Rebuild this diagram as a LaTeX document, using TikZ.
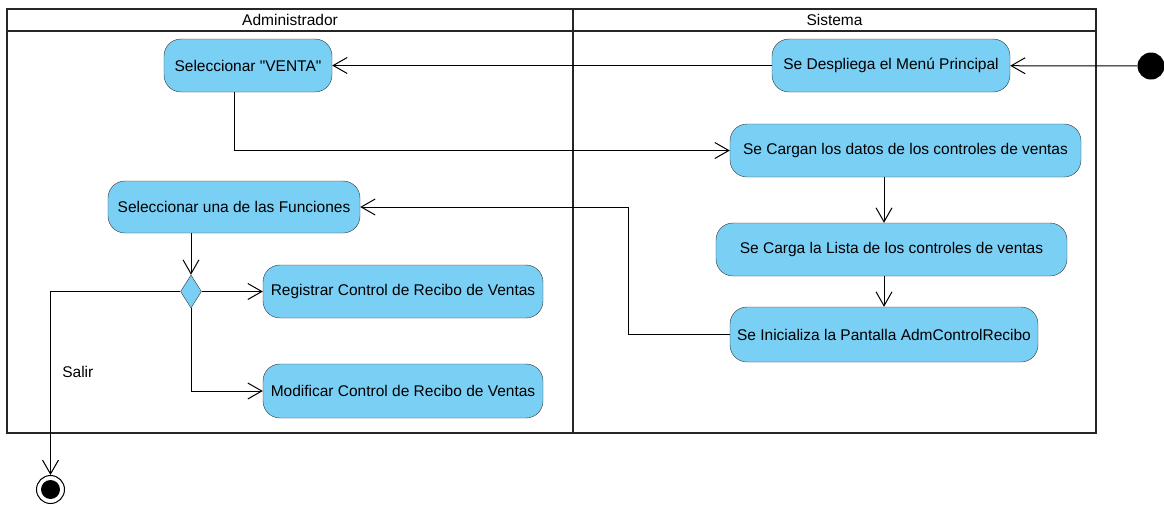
\documentclass[tikz,border=0pt]{standalone}
\usepackage{fontspec}
\setmainfont{Liberation Sans}[Ligatures=TeXOff]
\usetikzlibrary{arrows.meta,shapes.geometric}
\definecolor{actfill}{HTML}{7ACFF5}
\definecolor{actline}{HTML}{333333}
\tikzset{
  act/.style={draw=actline,fill=actfill,rounded corners=17pt,minimum height=53pt,inner sep=0pt},
  flow/.style={-{Straight Barb[length=14pt,width=16pt]},line width=1pt},
  lane/.style={line width=2.2pt,draw=black!85}
}

\begin{document}
\begin{tikzpicture}[x=1pt,y=-1pt,font=\fontsize{15.5}{18}\selectfont]
\useasboundingbox (0,0) rectangle (1164,504);
\draw[lane] (7,9) rectangle (1096,433);
\draw[lane] (7,31) -- (1096,31);
\draw[lane] (573,9) -- (573,433);
\node (adm) at (290,20) {Administrador};
\node (sis) at (834.5,20) {Sistema};

\node[act,minimum width=238pt] (menu) at (891,65.5) {Se Despliega el Menú Principal};
\node[act,minimum width=168pt] (venta) at (248,65.5) {Seleccionar "VENTA"};
\node[act,minimum width=351pt] (datos) at (905.5,150.5) {Se Cargan los datos de los controles de ventas};
\node[act,minimum width=252pt,minimum height=52pt] (func) at (234,207) {Seleccionar una de las Funciones};
\node[act,minimum width=351pt] (lista) at (891.5,249.5) {Se Carga la Lista de los controles de ventas};
\node[act,minimum width=308pt,minimum height=55pt] (ini) at (884,334.5) {Se Inicializa la Pantalla AdmControlRecibo};
\node[act,minimum width=280pt] (reg) at (403,291.5) {Registrar Control de Recibo de Ventas};
\node[act,minimum width=280pt,minimum height=54pt] (mod) at (403,391) {Modificar Control de Recibo de Ventas};
\node[diamond,draw=actline,fill=actfill,minimum width=21pt,minimum height=33pt,inner sep=0pt] (dec) at (191,291.5) {};
\node[circle,fill=black,minimum size=27pt,inner sep=0pt] (start) at (1151,66) {};
\node[circle,draw,line width=1pt,minimum size=28pt,inner sep=0pt] (fin) at (50.5,489.5) {};
\node[circle,fill=black,minimum size=19pt,inner sep=0pt] (findot) at (fin) {};

\draw[flow] (start) -- (menu);
\draw[flow] (menu) -- (venta);
\draw[flow] (venta.south -| func.north) |- (datos.west);
\draw[flow] (datos.south -| ini.north) -- (lista.north -| ini.north);
\draw[flow] (lista.south -| ini.north) -- (ini.north);
\draw[flow] (ini.west) -- ++(-101,0) |- (func.east);
\draw[flow] (func.south -| dec.north) -- (dec.north);
\draw[flow] (dec.east) -- (reg.west);
\draw[flow] (dec.south) |- (mod.west);
\draw[flow] (dec.west) -| (fin.north) node[pos=0.72,right=8pt] (salir) {Salir};
\end{tikzpicture}
\end{document}
